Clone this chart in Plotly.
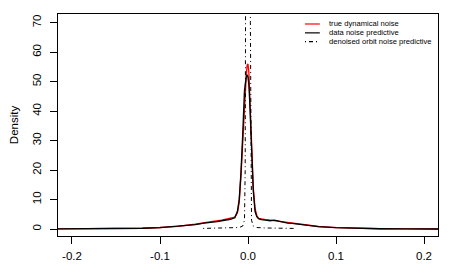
import plotly.graph_objects as go

# ---- data ----
true_x = [-0.25, -0.18, -0.15, -0.12, -0.10, -0.08, -0.06, -0.05, -0.04, -0.03, -0.02, -0.015,
          -0.012, -0.010, -0.008, -0.006, -0.004, -0.002, -0.001, 0.0, 0.001, 0.002, 0.004,
          0.006, 0.008, 0.010, 0.012, 0.015, 0.02, 0.025, 0.03, 0.04, 0.05, 0.06, 0.07, 0.08,
          0.10, 0.12, 0.15, 0.18, 0.25]
true_y = [0.0, 0.03, 0.1, 0.25, 0.5, 0.9, 1.6, 2.2, 2.6, 3.0, 3.5, 4.0,
          5.5, 9.0, 18.0, 31.0, 44.0, 52.0, 55.5, 56.0, 53.0, 46.0, 28.0,
          14.0, 7.0, 4.5, 3.6, 3.4, 3.2, 3.0, 2.8, 2.4, 2.0, 1.55, 1.15, 0.85,
          0.45, 0.25, 0.1, 0.03, 0.0]

data_x = [-0.25, -0.18, -0.15, -0.12, -0.10, -0.08, -0.07, -0.06, -0.05, -0.045, -0.04, -0.035,
          -0.03, -0.025, -0.02, -0.015, -0.012, -0.010, -0.008, -0.006, -0.004, -0.002, -0.001,
          0.0, 0.001, 0.002, 0.004, 0.006, 0.008, 0.010, 0.012, 0.015, 0.02, 0.025, 0.03,
          0.035, 0.04, 0.045, 0.05, 0.06, 0.07, 0.08, 0.10, 0.12, 0.15, 0.18, 0.25]
data_y = [0.0, 0.03, 0.1, 0.25, 0.45, 0.85, 1.15, 1.5, 2.0, 2.1, 2.4, 2.5,
          2.8, 3.0, 3.3, 3.8, 6.0, 10.0, 19.0, 32.0, 47.0, 51.5, 52.3,
          51.5, 49.0, 43.0, 27.0, 13.0, 6.0, 4.2, 3.5, 3.2, 3.0, 2.8, 3.0,
          2.6, 2.4, 2.0, 1.9, 1.5, 1.1, 0.8, 0.45, 0.25, 0.1, 0.03, 0.0]

orbit_x = [-0.051, -0.04, -0.03, -0.02, -0.01, -0.006, -0.004, -0.0032, -0.0027, -0.0024,
           -0.002, 0.0, 0.002, 0.0024, 0.0027, 0.0032, 0.004, 0.006, 0.01, 0.02, 0.03, 0.04, 0.052]
orbit_y = [0.2, 0.25, 0.3, 0.35, 0.5, 1.0, 3.0, 20.0, 70.0, 120.0,
           170.0, 220.0, 170.0, 120.0, 70.0, 20.0, 3.0, 1.0, 0.5, 0.35, 0.3, 0.25, 0.2]

series_names = ["true dynamical noise", "data noise predictive", "denoised orbit noise predictive"]
series_colors = ["#FF0000", "#000000", "#000000"]
series_dash = ["solid", "solid", "1px,3px,4px,3px"]

x_tickvals = [-0.2, -0.1, 0.0, 0.1, 0.2]
x_ticktext = ["-0.2", "-0.1", "0.0", "0.1", "0.2"]
y_tickvals = [0, 10, 20, 30, 40, 50, 60, 70]
y_ticktext = ["0", "10", "20", "30", "40", "50", "60", "70"]

FONT = "Liberation Sans, Arial, Helvetica, sans-serif"

fig = go.Figure()
xs = [true_x, data_x, orbit_x]
ys = [true_y, data_y, orbit_y]
widths = [1.35, 1.35, 1.0]
for i in range(3):
    fig.add_trace(go.Scatter(
        x=xs[i], y=ys[i], mode="lines", name=series_names[i],
        line=dict(color=series_colors[i], width=widths[i], dash=series_dash[i]),
        showlegend=False, hoverinfo="skip",
    ))

# manual legend (R-style, no box)
leg_y = [0.955, 0.915, 0.876]
for i in range(3):
    fig.add_shape(type="line", xref="paper", yref="paper",
                  x0=0.65, x1=0.689, y0=leg_y[i], y1=leg_y[i],
                  line=dict(color=series_colors[i], width=1.2, dash=series_dash[i]))
    fig.add_annotation(xref="paper", yref="paper", x=0.708, y=leg_y[i],
                       text=series_names[i], showarrow=False, xanchor="left", yanchor="middle",
                       font=dict(family=FONT, size=7.6, color="#000000"))

axis_common = dict(
    showline=True, linecolor="#000000", linewidth=1, mirror=True,
    ticks="outside", ticklen=7, tickcolor="#000000", tickwidth=1,
    showgrid=False, zeroline=False, automargin=False,
    tickfont=dict(family=FONT, size=11.5, color="#000000"),
)

# the page body adds an 8px offset; margins compensate so the plot box lands
# at x 58..438, y 14..236 in the window
fig.update_layout(
    width=463, height=273,
    margin=dict(l=50, r=33, t=6, b=45),
    paper_bgcolor="white", plot_bgcolor="white",
    showlegend=False,
    xaxis=dict(range=[-0.2159, 0.2159], tickmode="array", tickvals=x_tickvals,
               ticktext=x_ticktext, ticklabelstandoff=2, **axis_common),
    yaxis=dict(range=[-2.375, 72.95], tickmode="array", tickvals=y_tickvals,
               ticktext=y_ticktext, tickangle=-90, ticklabelstandoff=4,
               title=dict(text="Density", font=dict(family=FONT, size=11.5, color="#000000"),
                          standoff=18),
               **axis_common),
)

fig.write_html("out.html")
